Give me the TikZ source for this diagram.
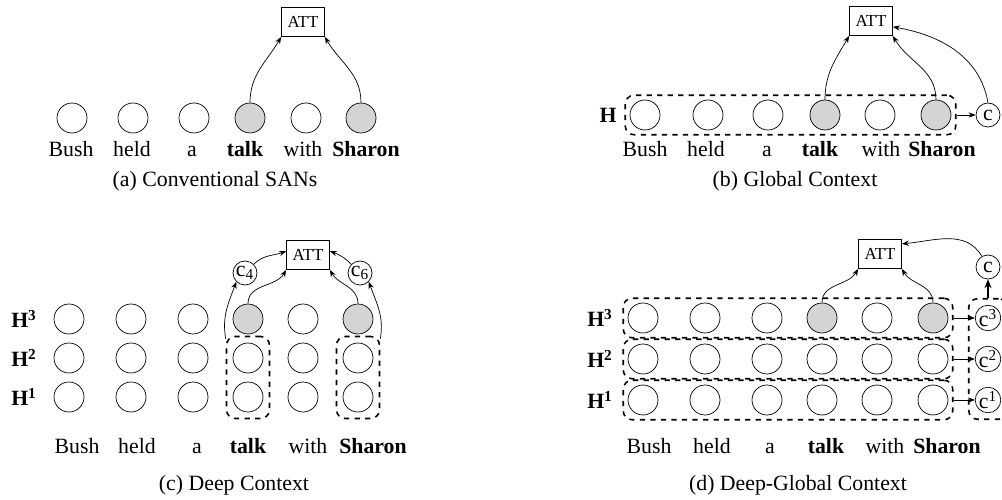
\documentclass[tikz,border=0pt]{standalone}
\usepackage{fontspec}
\setmainfont{Liberation Serif}
\usetikzlibrary{arrows.meta,fit}
\begin{document}
\begin{tikzpicture}[x=0.02cm,y=0.02cm,
    font=\fontsize{12.4}{15}\selectfont,
    cell/.style={circle,draw,minimum size=0.6cm,inner sep=0pt},
    cellhot/.style={cell,fill=black!17},
    ctx/.style={circle,draw,minimum size=0.48cm,inner sep=0pt},
    att/.style={draw,minimum width=0.86cm,minimum height=0.58cm,inner sep=0pt,font=\fontsize{9.6}{11}\selectfont},
    group/.style={draw,dashed,line width=0.9pt,rounded corners=5pt,inner sep=2.5pt},
    arr/.style={-{Stealth[length=4pt,width=3pt]},thin},
    word/.style={anchor=base,inner sep=0pt}]
  \useasboundingbox (0,0) rectangle (1002,-500);

  % (a) conventional
  \foreach \x/\s [count=\i] in {72/cell,133/cell,194/cell,250/cellhot,306/cell,361/cellhot}
    \node[\s] (a\i) at (\x,-118) {};
  \foreach \x/\w [count=\i] in {71/Bush,132/held,192/a,245/{\textbf{talk}},303/with,366/{\textbf{Sharon}}}
    \node[word] (aw\i) at (\x,-157) {\w};
  \node[att] (atta) at (303,-22) {ATT};
  \draw[arr] (a4.north) to[out=90,in=-120] (atta.south west);
  \draw[arr] (a6.north) to[out=90,in=-60] (atta.south east);
  \node[word] (capa) at (215,-187) {(a) Conventional SANs};

  % (b) global
  \foreach \x/\s [count=\i] in {645/cell,708/cell,768/cell,825/cellhot,880/cell,936/cellhot}
    \node[\s] (b\i) at (\x,-115) {};
  \foreach \x/\w [count=\i] in {645/Bush,706/held,767/a,820/{\textbf{talk}},881/with,942/{\textbf{Sharon}}}
    \node[word] (bw\i) at (\x,-157) {\w};
  \node[group,fit=(b1)(b6)] (hb) {};
  \node (hbl) at (608,-115) {\textbf{H}};
  \node[ctx] (bc) at (988,-115) {c};
  \node[att] (attb) at (871,-21) {ATT};
  \draw[arr] (hb.east) -- (bc.west);
  \draw[arr] (b4.north) to[out=90,in=-120] (attb.south west);
  \draw[arr] (b6.north) to[out=90,in=-60] (attb.south east);
  \draw[arr] (bc.north) to[out=100,in=-10] (attb.-15);
  \node[word] (capb) at (795,-187) {(b) Global Context};

  % (c) deep
  \foreach \x/\s [count=\i] in {69/cell,131/cell,193/cell,248/cellhot,303/cell,358/cellhot} {
    \node[cell] (c1\i) at (\x,-397) {};
    \node[cell] (c2\i) at (\x,-358) {};
    \node[\s] (c3\i) at (\x,-319) {};
  }
  \foreach \y/\r in {-319/3,-358/2,-397/1}
    \node (hc\r) at (24,\y) {\textbf{H}\textsuperscript{\textbf{\r}}};
  \foreach \x/\w [count=\i] in {77/Bush,137/held,197/a,248/{\textbf{talk}},308/with,373/{\textbf{Sharon}}}
    \node[word] (cw\i) at (\x,-453) {\w};
  \node[group,fit=(c24)(c14),inner sep=3.5pt] (tkbox) {};
  \node[group,fit=(c26)(c16),inner sep=3.5pt] (shbox) {};
  \node[ctx] (ctx4) at (245,-273) {c\textsubscript{4}};
  \node[ctx] (ctx6) at (360,-273) {c\textsubscript{6}};
  \node[att] (attc) at (308,-255) {ATT};
  \draw[arr] (tkbox.120) to[out=100,in=-110] (ctx4.south west);
  \draw[arr] (shbox.60) to[out=80,in=-70] (ctx6.south east);
  \draw[arr] (ctx4.45) to[out=45,in=200] (attc.170);
  \draw[arr] (ctx6.135) to[out=135,in=-20] (attc.10);
  \draw[arr] (c34.north) to[out=90,in=-120] (attc.south west);
  \draw[arr] (c36.north) to[out=90,in=-60] (attc.south east);
  \node[word] (capc) at (234,-490) {(c) Deep Context};

  % (d) deep-global
  \foreach \x/\s [count=\i] in {643/cell,705/cell,767/cell,822/cellhot,877/cell,933/cellhot} {
    \node[cell] (d1\i) at (\x,-400) {};
    \node[cell] (d2\i) at (\x,-359) {};
    \node[\s] (d3\i) at (\x,-318) {};
  }
  \foreach \y/\r in {-318/3,-359/2,-400/1} {
    \node[group,fit=(d\r1)(d\r6)] (h\r) {};
    \node (hd\r) at (600,\y) {\textbf{H}\textsuperscript{\textbf{\r}}};
    \node[ctx] (dc\r) at (988,\y) {c\textsuperscript{\r}};
    \draw[arr] (h\r.east) -- (dc\r.west);
  }
  \foreach \x/\w [count=\i] in {649/Bush,712/held,770/a,826/{\textbf{talk}},885/with,947/{\textbf{Sharon}}}
    \node[word] (dw\i) at (\x,-453) {\w};
  \node[group,fit=(dc3)(dc1),inner sep=3.5pt] (cbox) {};
  \node[ctx] (dc) at (988,-267) {c};
  \node[att] (attd) at (880,-254) {ATT};
  \draw[-{Stealth[length=5pt,width=4pt]},line width=1.2pt] (cbox.north) -- (dc.south);
  \draw[arr] (d34.north) to[out=90,in=-120] (attd.south west);
  \draw[arr] (d36.north) to[out=90,in=-60] (attd.south east);
  \draw[arr] (dc.120) to[out=120,in=5] (attd.25);
  \node[word] (capd) at (798,-490) {(d) Deep-Global Context};
\end{tikzpicture}
\end{document}
